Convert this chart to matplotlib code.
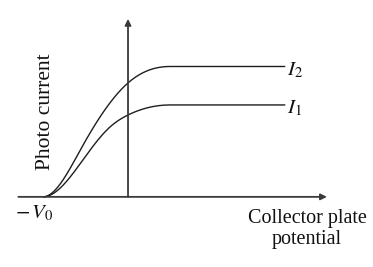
import numpy as np
import matplotlib
matplotlib.use("Agg")
import matplotlib.pyplot as plt

plt.rcParams['mathtext.fontset'] = 'stix'

# Collector plate potential (units of V0) and photo current (units of saturation I2)
# points read along the rising part of each curve; last point = start of saturation
x_i2 = [-1.0, -0.541, 0.0, 0.494]
y_i2 = [0.0, 0.383, 0.874, 1.0]
x_i1 = [-1.0, -0.471, -0.212, 0.0, 0.494]
y_i1 = [0.0, 0.337, 0.536, 0.628, 0.705]
x_sat_end = 1.85
labels = ["$I_2$", "$I_1$"]
stopping_label = "$-\\,V_0$"
xlabel_text = "Collector plate\npotential"
ylabel_text = "Photo current"


def clamped_spline(x, y, n=300):
    """Cubic spline through the points with zero slope at both ends."""
    x = np.asarray(x, float); y = np.asarray(y, float)
    N = len(x); h = np.diff(x)
    A = np.zeros((N, N)); r = np.zeros(N)
    A[0, 0] = 2 * h[0]; A[0, 1] = h[0]
    r[0] = 6 * ((y[1] - y[0]) / h[0] - 0.0)
    A[-1, -2] = h[-1]; A[-1, -1] = 2 * h[-1]
    r[-1] = 6 * (0.0 - (y[-1] - y[-2]) / h[-1])
    for i in range(1, N - 1):
        A[i, i - 1] = h[i - 1]; A[i, i] = 2 * (h[i - 1] + h[i]); A[i, i + 1] = h[i]
        r[i] = 6 * ((y[i + 1] - y[i]) / h[i] - (y[i] - y[i - 1]) / h[i - 1])
    M = np.linalg.solve(A, r)
    xs = np.linspace(x[0], x[-1], n)
    k = np.clip(np.searchsorted(x, xs) - 1, 0, N - 2)
    a = x[k + 1] - xs; b = xs - x[k]; hk = h[k]
    ys = (M[k] * a**3 + M[k + 1] * b**3) / (6 * hk) \
        + (y[k] / hk - M[k] * hk / 6) * a + (y[k + 1] / hk - M[k + 1] * hk / 6) * b
    return np.append(xs, x_sat_end), np.append(ys, y[-1])


fig = plt.figure(figsize=(3.73, 2.67), dpi=100)
ax = fig.add_axes([0, 0, 1, 1])
ax.set_xlim(-1.506, 2.882)
ax.set_ylim(-0.538, 1.51)
ax.axis('off')

axis_color = '#3a3a3a'
curve_color = '#1e1e1e'

# axes with arrows
ax.annotate('', xy=(2.34, 0), xytext=(-1.29, 0),
            arrowprops=dict(arrowstyle='-|>', color=axis_color, lw=1.3,
                            mutation_scale=9, shrinkA=0, shrinkB=0))
ax.annotate('', xy=(0, 1.365), xytext=(0, 0),
            arrowprops=dict(arrowstyle='-|>', color=axis_color, lw=1.3,
                            mutation_scale=9, shrinkA=0, shrinkB=0))

for xv, yv in [(x_i2, y_i2), (x_i1, y_i1)]:
    xs, ys = clamped_spline(xv, yv)
    ax.plot(xs, ys, color=curve_color, lw=1.0, solid_capstyle='butt')

ax.text(x_sat_end + 0.015, y_i2[-1] - 0.025, labels[0], fontsize=15, va='center', ha='left', color='#111')
ax.text(x_sat_end + 0.015, y_i1[-1] - 0.025, labels[1], fontsize=15, va='center', ha='left', color='#111')

ax.text(-1.1, -0.125, stopping_label, fontsize=15, va='center', ha='center', color='#111')
ax.text(2.105, -0.245, xlabel_text, fontsize=14.5, va='center', ha='center',
        family='Liberation Serif', linespacing=1.12, color='#111')
ax.text(-0.965, 0.655, ylabel_text, fontsize=15.5, va='center', ha='center',
        rotation=90, family='Liberation Serif', color='#111')

fig.savefig('out.png', dpi=100)
